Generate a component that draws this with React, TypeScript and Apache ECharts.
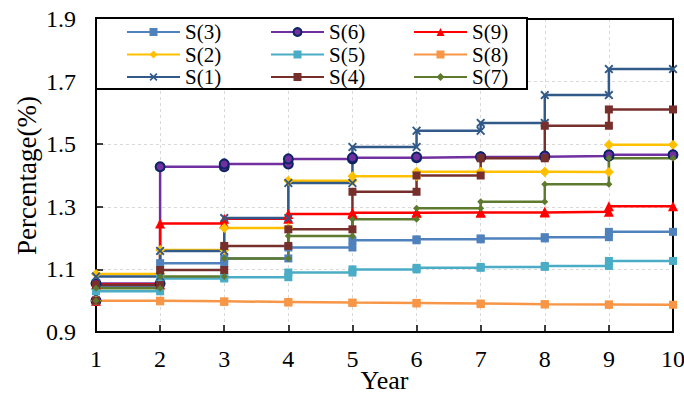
import React, { useEffect, useRef } from "react";
import * as echarts from "echarts";

const years = [1, 2, 3, 4, 5, 6, 7, 8, 9, 10];
const yTicks = { min: 0.9, max: 1.9, interval: 0.2 };

// value at year 1 (start) followed by the level reached at each year's step
const S1 = [1.0, 1.077, 1.159, 1.264, 1.376, 1.491, 1.543, 1.568, 1.657, 1.74];
const S2 = [1.0, 1.085, 1.162, 1.232, 1.383, 1.398, 1.412, 1.412, 1.411, 1.498];
const S3 = [1.0, 1.045, 1.12, 1.135, 1.17, 1.193, 1.196, 1.199, 1.203, 1.22];
const S4 = [1.0, 1.05, 1.098, 1.175, 1.228, 1.348, 1.4, 1.455, 1.559, 1.611];
const S5 = [1.0, 1.03, 1.071, 1.075, 1.09, 1.1, 1.105, 1.108, 1.111, 1.127];
const S6 = [1.0, 1.055, 1.428, 1.437, 1.453, 1.457, 1.459, 1.46, 1.462, 1.466];
const S7 = [1.0, 1.04, 1.077, 1.135, 1.207, 1.26, 1.295, 1.316, 1.372, 1.455];
const S8 = [1.0, 1.0, 0.998, 0.996, 0.994, 0.993, 0.991, 0.989, 0.988, 0.987];
const S9 = [1.0, 1.052, 1.247, 1.262, 1.277, 1.281, 1.282, 1.282, 1.284, 1.302];

const crossPath =
  "path://M0,1.5L1.5,0L5,3.5L8.5,0L10,1.5L6.5,5L10,8.5L8.5,10L5,6.5L1.5,10L0,8.5L3.5,5Z";

const seriesDefs = [
  { name: "S(3)", values: S3, color: "#4F81BD", symbol: "rect", size: 8 },
  { name: "S(6)", values: S6, color: "#7030A0", symbol: "circle", size: 9, border: "#0E2466" },
  { name: "S(9)", values: S9, color: "#FF0000", symbol: "triangle", size: 10 },
  { name: "S(2)", values: S2, color: "#FFC000", symbol: "diamond", size: 10 },
  { name: "S(5)", values: S5, color: "#4BACC6", symbol: "rect", size: 8 },
  { name: "S(8)", values: S8, color: "#F79646", symbol: "rect", size: 8 },
  { name: "S(1)", values: S1, color: "#325A88", symbol: crossPath, size: 9 },
  { name: "S(4)", values: S4, color: "#772F2C", symbol: "rect", size: 8 },
  { name: "S(7)", values: S7, color: "#5E7A2E", symbol: "diamond", size: 7 },
];

const legendColumns = [
  ["S(3)", "S(2)", "S(1)"],
  ["S(6)", "S(5)", "S(4)"],
  ["S(9)", "S(8)", "S(7)"],
];

function stepPoints(vals: number[]) {
  const pts: number[][] = [[years[0], vals[0]]];
  for (let i = 1; i < vals.length; i++) {
    pts.push([years[i - 1], vals[i]]);
    pts.push([years[i], vals[i]]);
  }
  return pts;
}

const FONT = "Liberation Serif";
const W = 684;
const H = 395;
const G = { left: 96, right: 11, top: 19, bottom: 63 };

export default function App() {
  const ref = useRef<HTMLDivElement>(null);
  useEffect(() => {
    if (!ref.current) return;
    const chart = echarts.init(ref.current, null, { renderer: "svg" });
    const legendLefts = [126, 270, 413];
    chart.setOption({
      animation: false,
      backgroundColor: "#fff",
      grid: {
        left: G.left,
        right: G.right,
        top: G.top,
        bottom: G.bottom,
        outerBoundsMode: "none",
        containLabel: false,
        show: false,
      },
      xAxis: {
        type: "value",
        min: 1,
        max: 10,
        interval: 1,
        name: "Year",
        nameLocation: "middle",
        nameGap: 37,
        nameMoveOverlap: false,
        nameTextStyle: {
          fontFamily: FONT,
          fontSize: 26,
          lineHeight: 22,
          color: "#000",
        },
        axisLine: { show: true, lineStyle: { color: "#000", width: 2 } },
        axisTick: { show: true, inside: true, length: 7, lineStyle: { color: "#000", width: 1.5 } },
        axisLabel: { fontFamily: FONT, fontSize: 24, lineHeight: 18, color: "#000", margin: 18 },
        splitLine: { show: true, lineStyle: { color: "#D9D9D9", type: [3, 3], width: 1 } },
      },
      yAxis: {
        type: "value",
        min: yTicks.min,
        max: yTicks.max,
        interval: yTicks.interval,
        name: "Percentage(%)",
        nameLocation: "middle",
        nameGap: 56,
        nameMoveOverlap: false,
        nameTextStyle: { fontFamily: FONT, fontSize: 27, color: "#000" },
        axisLine: { show: true, lineStyle: { color: "#000", width: 2 } },
        axisTick: { show: true, inside: true, length: 7, lineStyle: { color: "#000", width: 1.5 } },
        axisLabel: {
          fontFamily: FONT,
          fontSize: 24,
          color: "#000",
          margin: 20,
          formatter: (v: number) => v.toFixed(1),
        },
        splitLine: { show: true, lineStyle: { color: "#D9D9D9", type: [3, 3], width: 1 } },
      },
      graphic: {
        elements: [
          {
            type: "rect",
            z: 1,
            silent: true,
            shape: {
              x: G.left,
              y: G.top,
              width: W - G.left - G.right,
              height: H - G.top - G.bottom,
            },
            style: { fill: "none", stroke: "#000", lineWidth: 2 },
          },
          {
            type: "rect",
            z: 5,
            silent: true,
            shape: { x: 96, y: 18, width: 431, height: 71 },
            style: { fill: "#fff", stroke: "#000", lineWidth: 2 },
          },
        ],
      },
      legend: legendColumns.map((names, i) => ({
        orient: "vertical",
        left: legendLefts[i],
        top: 21,
        padding: 0,
        itemGap: 0.5,
        itemWidth: 53,
        itemHeight: 10,
        z: 10,
        data: names,
        textStyle: { fontFamily: FONT, fontSize: 21, color: "#000", lineHeight: 22 },
      })),
      series: seriesDefs.map((s) => ({
        name: s.name,
        type: "line",
        data: stepPoints(s.values),
        symbol: s.symbol,
        symbolSize: s.size,
        showSymbol: true,
        z: 2,
        lineStyle: { color: s.color, width: 2.5 },
        itemStyle: {
          color: s.color,
          borderColor: s.border || s.color,
          borderWidth: s.border ? 2 : 0,
        },
        emphasis: { disabled: true },
      })),
    });
    return () => chart.dispose();
  }, []);
  return (
    <div
      ref={ref}
      style={{ position: "absolute", left: 0, top: 0, width: W, height: H }}
    />
  );
}
